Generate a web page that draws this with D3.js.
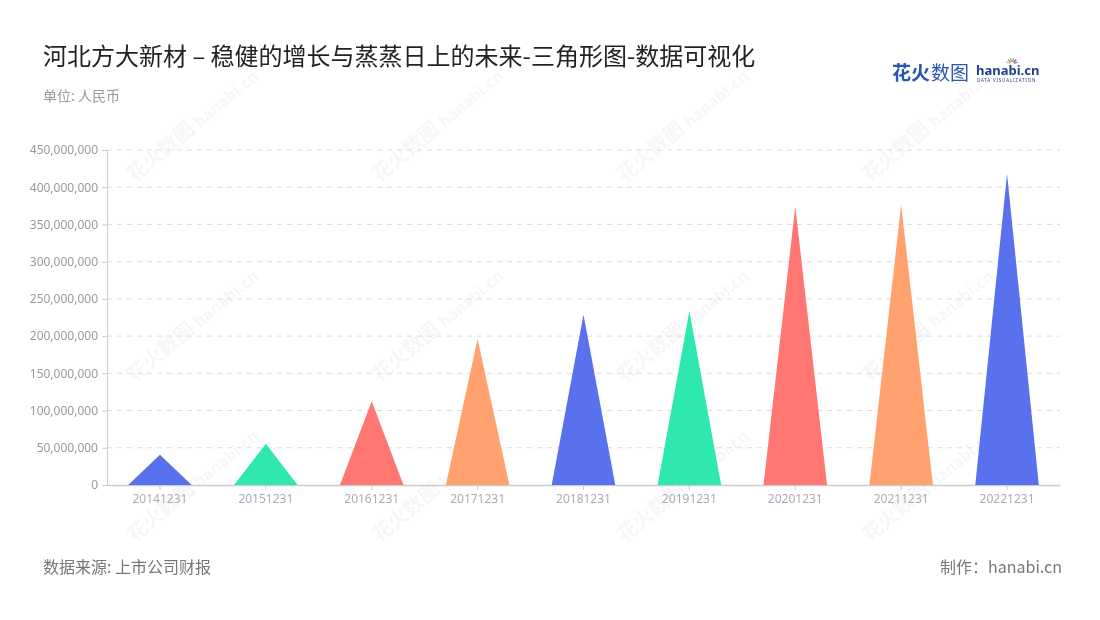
<!DOCTYPE html>
<html><head><meta charset="utf-8">
<script src="https://cdn.jsdelivr.net/npm/d3@7/dist/d3.min.js"></script>
<style>body{margin:0;background:#fff;font-family:"Noto Sans CJK SC","Noto Sans",sans-serif;}</style>
</head><body><svg id="c" width="1100" height="620"></svg>
<script>
const categories = ["20141231","20151231","20161231","20171231","20181231","20191231","20201231","20211231","20221231"];
const values = [40500000,55500000,112500000,196000000,229000000,233500000,374000000,376500000,418000000];
const colors = ["#5a71ee","#2ee8b0","#ff7672","#ffa270"];
const yTicks = [0,50000000,100000000,150000000,200000000,250000000,300000000,350000000,400000000,450000000];

const svg = d3.select("#c");
const W = 1100, H = 620;
const m = {l:107, r:40, t:150, b:135};
const x = d3.scaleBand().domain(categories).range([m.l, W-m.r]).padding(0);
const y = d3.scaleLinear().domain([0,450000000]).range([H-m.b, m.t]);

// watermarks
const wm = svg.append("g").attr("opacity",0.045).attr("fill","#333");
[[150,170],[395,170],[640,170],[885,170],[150,370],[395,370],[640,370],[885,370],[395,530],[640,530],[885,530],[150,530]].forEach(([cx,cy])=>{
  const g = wm.append("g").attr("transform",`translate(${cx},${cy}) rotate(-40)`);
  g.append("text").attr("x",-20).attr("y",0).attr("font-size",20).attr("font-weight","bold").text("花火数图");
  g.append("text").attr("x",65).attr("y",0).attr("font-size",16).attr("font-weight","bold").text("hanabi.cn");
});

// grid
svg.append("g").selectAll("line").data(yTicks.slice(1)).join("line")
  .attr("x1",m.l).attr("x2",W-m.r).attr("y1",d=>y(d)).attr("y2",d=>y(d))
  .attr("stroke","#dcdcdc").attr("stroke-dasharray","5,5");

// y axis
const ya = svg.append("g").attr("transform",`translate(${m.l},0)`)
  .call(d3.axisLeft(y).tickValues(yTicks).tickFormat(d3.format(",")).tickSize(5).tickPadding(4));
ya.select(".domain").attr("stroke","#ccc");
ya.selectAll(".tick line").attr("stroke","#ccc");
ya.selectAll("text").attr("fill","#999").attr("font-size",12).attr("font-family","Noto Sans, sans-serif");

// x axis
const xa = svg.append("g").attr("transform",`translate(0,${H-m.b})`)
  .call(d3.axisBottom(x).tickSize(5).tickPadding(4).tickSizeOuter(0));
xa.select(".domain").attr("stroke","#ccc").attr("stroke-width",1.5);
xa.selectAll(".tick line").attr("stroke","#ccc");
xa.selectAll("text").attr("fill","#aab").attr("font-size",12).attr("font-family","Noto Sans, sans-serif");

// triangles
const bw = x.bandwidth()*0.6;
svg.append("g").selectAll("path").data(categories).join("path")
  .attr("d",(c,i)=>{
    const cx = x(c)+x.bandwidth()/2, b = y(0), t = y(values[i]);
    return `M${cx-bw/2},${b} L${cx},${t} L${cx+bw/2},${b} Z`;
  })
  .attr("fill",(c,i)=>colors[i%4]);

// titles
svg.append("text").attr("x",43).attr("y",65).attr("font-size",24).attr("fill","#222").text("河北方大新材 – 稳健的增长与蒸蒸日上的未来-三角形图-数据可视化");
svg.append("text").attr("x",43).attr("y",101).attr("font-size",14).attr("fill","#999").text("单位: 人民币");
svg.append("text").attr("x",43).attr("y",573).attr("font-size",16).attr("fill","#777").text("数据来源: 上市公司财报");
svg.append("text").attr("x",1062).attr("y",573).attr("text-anchor","end").attr("font-size",16).attr("fill","#777").text("制作：hanabi.cn");

// logo
svg.append("text").attr("x",892).attr("y",80).attr("font-size",19).attr("font-weight","bold").attr("fill","#2a55b0").text("花火");
svg.append("text").attr("x",931).attr("y",80).attr("font-size",19).attr("fill","#2a55b0").text("数图");
svg.append("text").attr("x",976).attr("y",75).attr("font-size",13).attr("font-weight","bold").attr("fill","#1f3f8f").attr("font-family","Noto Sans, sans-serif").text("hanabi.cn");
svg.append("text").attr("x",977).attr("y",82).attr("font-size",4.5).attr("fill","#1f3f8f").attr("letter-spacing",0.8).attr("font-family","Noto Sans, sans-serif").text("DATA VISUALIZATION");
const sp = ["#f5c242","#f07aa0","#58c8e8","#8ad05a","#e05050","#6b8ff0"];
sp.forEach((c,i)=>{const a=-Math.PI*0.9+i*Math.PI*0.16; svg.append("line").attr("x1",1012+Math.cos(a)*2).attr("y1",64+Math.sin(a)*2).attr("x2",1012+Math.cos(a)*6).attr("y2",64+Math.sin(a)*6).attr("stroke",c).attr("stroke-width",1.5);});
</script></body></html>
